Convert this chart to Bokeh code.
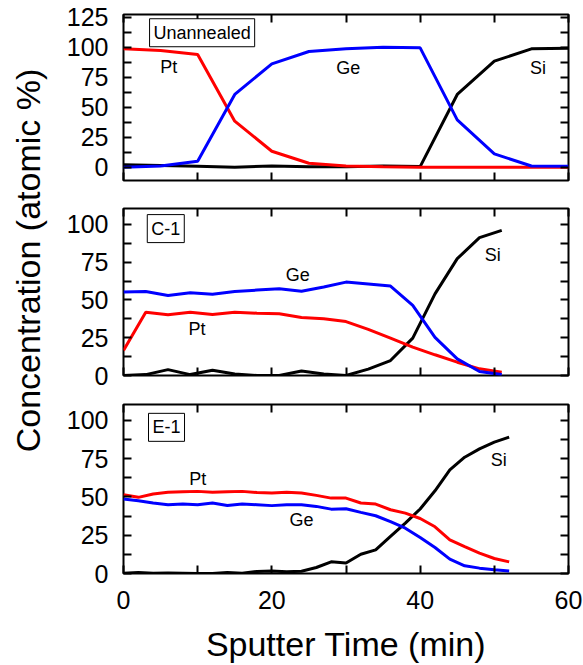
import math
from bokeh.plotting import figure
from bokeh.models import Range1d, FixedTicker, LinearAxis, Label
from bokeh.layouts import row, column
from bokeh.embed import file_html
from bokeh.resources import INLINE

FONT = "Liberation Sans"

# ---------------- data ----------------
x_ticks = [0, 20, 40, 60]
x_minor = [10, 30, 50]
y_ticks_top = [0, 25, 50, 75, 100, 125]
y_ticks = [0, 25, 50, 75, 100]
y_minor = [12.5, 37.5, 62.5, 87.5, 112.5]

# Unannealed
t_un = [0, 5, 10, 15, 20, 25, 30, 35, 40, 45, 50, 55, 60]
pt_un = [98.6, 97.2, 93.9, 38.3, 13.3, 3.3, 1.0, 0.3, 0.0, 0.0, 0.0, 0.0, 0.0]
ge_un = [0.0, 1.0, 5.0, 60.6, 86.1, 96.4, 98.6, 100.0, 99.4, 39.4, 11.1, 1.0, 0.7]
si_un = [2.0, 1.5, 0.8, 0.0, 1.0, 0.3, 0.3, 1.0, 0.5, 60.6, 88.3, 98.6, 99.0]

# C-1
t_c1 = [0, 3, 6, 9, 12, 15, 18, 21, 24, 27, 30, 33, 36, 39, 42, 45, 48, 51]
pt_c1 = [16.6, 41.9, 40.2, 41.9, 40.4, 41.9, 41.2, 40.8, 38.4, 37.5, 35.7, 30.5,
         24.7, 18.8, 13.7, 8.8, 4.4, 2.2]
ge_c1 = [55.2, 55.6, 52.9, 54.7, 53.8, 55.6, 56.5, 57.4, 55.8, 58.5, 61.8, 60.5,
         59.2, 46.4, 25.2, 11.0, 2.6, 0.6]
si_c1 = [0.0, 0.6, 3.9, 0.6, 3.5, 1.0, 0.0, 0.0, 3.0, 1.0, 0.0, 4.2, 9.9, 24.7,
         54.0, 77.3, 91.2, 96.0]

# E-1
t_e1 = [0, 2, 4, 6, 8, 10, 12, 14, 16, 18, 20, 22, 24, 26, 28, 30, 32, 34, 36,
        38, 40, 42, 44, 46, 48, 50, 52]
pt_e1 = [51.4, 49.7, 51.9, 53.0, 53.4, 53.6, 53.0, 53.4, 53.6, 52.8, 52.5, 53.0,
         52.5, 51.0, 49.2, 49.2, 46.0, 45.3, 41.6, 39.4, 35.9, 30.5, 22.0, 17.6,
         13.3, 9.8, 7.6]
ge_e1 = [48.6, 47.5, 46.0, 44.9, 45.4, 44.9, 46.0, 44.4, 45.4, 44.9, 44.3, 44.9,
         44.9, 43.8, 42.0, 42.3, 39.9, 37.7, 33.8, 29.6, 23.5, 17.0, 9.4, 5.0,
         3.5, 2.4, 1.7]
si_e1 = [0.2, 0.6, 0.2, 0.4, 0.2, 0.0, 0.0, 0.6, 0.2, 1.3, 1.7, 1.1, 1.5, 3.9,
         7.6, 6.9, 12.6, 15.4, 24.2, 32.9, 42.1, 54.0, 67.6, 75.9, 81.3, 85.7, 89.0]

# panel text: (text, x, y, boxed)
labels_un = [("Unannealed", 10.6, 112.0, True), ("Pt", 6.1, 83.5, False),
             ("Ge", 30.3, 82.7, False), ("Si", 55.9, 82.7, False)]
labels_c1 = [("C-1", 5.7, 97.2, True), ("Ge", 23.5, 66.2, False),
             ("Pt", 9.9, 30.9, False), ("Si", 49.8, 79.7, False)]
labels_e1 = [("E-1", 5.8, 95.4, True), ("Pt", 10.0, 61.7, False),
             ("Ge", 24.0, 35.0, False), ("Si", 50.6, 74.2, False)]

RED, BLUE, BLACK = "#ff0000", "#0000ff", "#000000"


def style_axis(ax, ticks, minor, show_labels):
    if show_labels:
        ax.ticker = FixedTicker(ticks=ticks, minor_ticks=minor)
        ax.major_label_text_font = FONT
        ax.major_label_text_font_size = "25px"
        ax.major_label_text_color = "black"
    else:
        # unlabelled side: all ticks drawn as (equal length) minor ticks
        ax.ticker = FixedTicker(ticks=[], minor_ticks=sorted(ticks + minor))
        ax.major_label_standoff = 0
    ax.axis_line_color = None
    ax.major_tick_in = 8
    ax.major_tick_out = 0
    ax.minor_tick_in = 8
    ax.minor_tick_out = 0
    ax.major_tick_line_width = 2
    ax.minor_tick_line_width = 2
    ax.major_tick_line_color = "black"
    ax.minor_tick_line_color = "black"


def make_panel(height, b_top, b_bottom, y0, y1, yt, t, pt, ge, si, labels, bottom_panel):
    p = figure(width=535, height=height, x_range=Range1d(0, 60), y_range=Range1d(y0, y1),
               output_backend="svg", toolbar_location=None,
               min_border_left=75, min_border_right=15,
               min_border_top=b_top, min_border_bottom=b_bottom)
    p.grid.visible = False
    p.outline_line_color = "black"
    p.outline_line_width = 2
    p.background_fill_color = "white"
    p.border_fill_color = "white"

    style_axis(p.xaxis[0], x_ticks, x_minor, bottom_panel)
    style_axis(p.yaxis[0], yt, y_minor, True)
    p.yaxis[0].major_label_standoff = 15
    if bottom_panel:
        ax = p.xaxis[0]
        ax.major_label_standoff = 17
        ax.axis_label = "Sputter Time (min)"
        ax.axis_label_text_font = FONT
        ax.axis_label_text_font_size = "34px"
        ax.axis_label_text_font_style = "normal"
        ax.axis_label_text_color = "black"
        ax.axis_label_standoff = 13

    top_ax = LinearAxis()
    style_axis(top_ax, x_ticks, x_minor, False)
    p.add_layout(top_ax, "above")
    right_ax = LinearAxis()
    style_axis(right_ax, yt, y_minor, False)
    p.add_layout(right_ax, "right")

    p.line(t, si, line_color=BLACK, line_width=3)
    p.line(t, pt, line_color=RED, line_width=3)
    p.line(t, ge, line_color=BLUE, line_width=3)

    for txt, lx, ly, boxed in labels:
        kw = dict(x=lx, y=ly, text=txt, text_align="center", text_baseline="middle",
                  text_font=FONT, text_font_size="18px", text_color="black")
        if boxed:
            kw.update(border_line_color="black", border_line_width=1,
                      background_fill_color="white", padding=4)
        p.add_layout(Label(**kw))
    return p


p1 = make_panel(194, 14, 14, -11.1, 127.2, y_ticks_top, t_un, pt_un, ge_un, si_un, labels_un, False)
p2 = make_panel(195, 14, 14, 0, 110.5, y_ticks, t_c1, pt_c1, ge_c1, si_c1, labels_c1, False)
p3 = make_panel(276, 15, 92, 0, 110.3, y_ticks, t_e1, pt_e1, ge_e1, si_e1, labels_e1, True)

# y-axis title spanning all panels
pt_title = figure(width=48, height=665, x_range=Range1d(0, 48), y_range=Range1d(665, 0),
                  output_backend="svg", toolbar_location=None,
                  x_axis_location=None, y_axis_location=None, min_border=0)
pt_title.grid.visible = False
pt_title.outline_line_color = None
pt_title.add_layout(Label(x=27, y=260, text="Concentration (atomic %)", angle=math.pi / 2,
                          text_align="center", text_baseline="middle",
                          text_font=FONT, text_font_size="34px", text_color="black"))

layout = row(pt_title, column(p1, p2, p3, spacing=0), spacing=0)

with open("out.html", "w") as f:
    f.write(file_html(layout, INLINE))
